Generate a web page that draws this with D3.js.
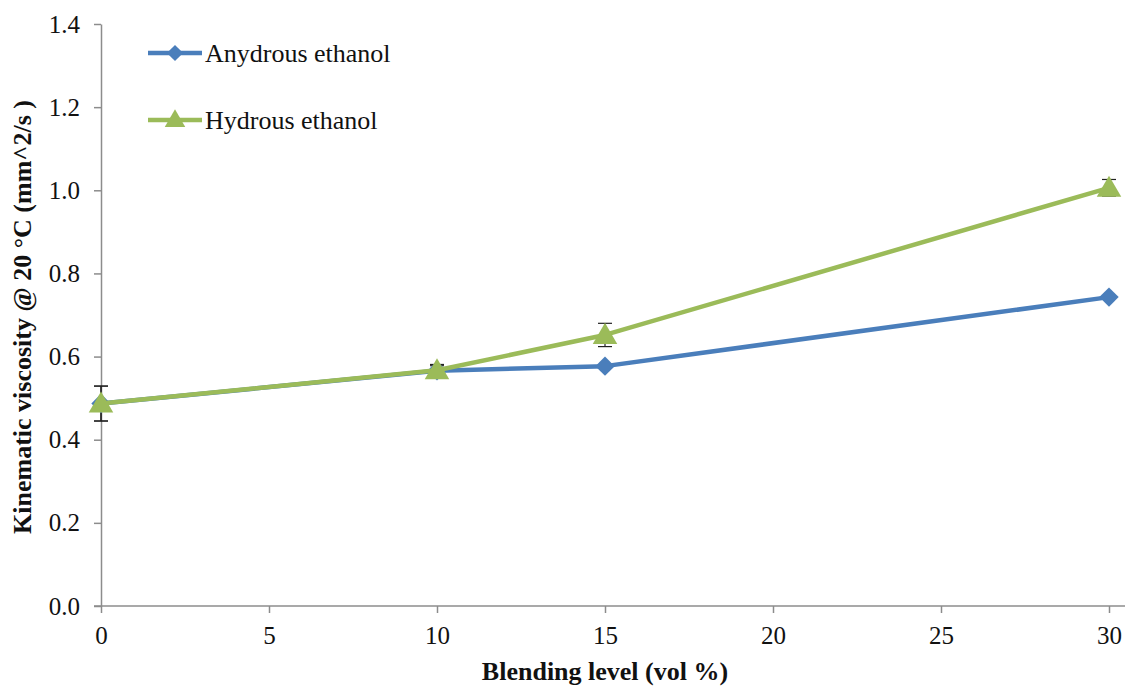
<!DOCTYPE html>
<html>
<head>
<meta charset="utf-8">
<script src="https://cdn.jsdelivr.net/npm/d3@7/dist/d3.min.js"></script>
<style>
  html, body { margin: 0; padding: 0; background: #fff; }
  svg { display: block; }
  text { font-family: "Liberation Serif", "Times New Roman", serif; fill: #111; }
</style>
</head>
<body>
<svg id="chart" width="1125" height="687"></svg>
<script>
// Blending level (vol %) at which viscosity was measured
const blendLevels = [0, 10, 15, 30];
// Kinematic viscosity at 20 °C (mm^2/s)
const anhydrous = [0.487, 0.566, 0.577, 0.743];
const hydrous   = [0.487, 0.567, 0.652, 1.006];
// Error bar half-widths
const anhydrousErr = [0.042, 0.012, 0.0, 0.0];
const hydrousErr   = [0.042, 0.014, 0.028, 0.020];
const seriesNames = ["Anydrous ethanol", "Hydrous ethanol"];
const xTicks = [0, 5, 10, 15, 20, 25, 30];
const yTicks = [0, 0.2, 0.4, 0.6, 0.8, 1.0, 1.2, 1.4];

const svg = d3.select("#chart");
const margin = { left: 100, right: 16, top: 24, bottom: 81 };
const W = 1125, H = 687;
const serif = '"Liberation Serif", "Times New Roman", serif';

const x = d3.scaleLinear().domain([0, 30]).range([margin.left + 1, W - margin.right]);
const y = d3.scaleLinear().domain([0, 1.4]).range([H - margin.bottom, margin.top]);

const axisColor = "#8c8c8c";

// Axes
const xAxis = svg.append("g")
  .attr("transform", `translate(0,${y(0)})`)
  .call(d3.axisBottom(x).tickValues(xTicks).tickSize(7).tickPadding(13).tickSizeOuter(0));
xAxis.attr("font-family", serif).attr("font-size", 25);
xAxis.select(".domain").attr("stroke", axisColor).attr("stroke-width", 1.5)
  .attr("d", `M${margin.left - 6},0H${W}`);
xAxis.selectAll(".tick line").attr("stroke", axisColor).attr("stroke-width", 1.5);
xAxis.selectAll(".tick text").attr("fill", "#111");

const yAxis = svg.append("g")
  .attr("transform", `translate(${x(0)},0)`)
  .call(d3.axisLeft(y).tickValues(yTicks).tickFormat(d3.format(".1f")).tickSize(7).tickPadding(14).tickSizeOuter(0));
yAxis.attr("font-family", serif).attr("font-size", 25);
yAxis.select(".domain").attr("stroke", axisColor).attr("stroke-width", 1.5);
yAxis.selectAll(".tick line").attr("stroke", axisColor).attr("stroke-width", 1.5);
yAxis.selectAll(".tick text").attr("fill", "#111");

// Axis titles
svg.append("text")
  .attr("x", (x(0) + x(30)) / 2)
  .attr("y", 680)
  .attr("text-anchor", "middle")
  .style("font-size", "26px").style("font-weight", "bold")
  .text("Blending level (vol %)");

svg.append("text")
  .attr("transform", `translate(31,${(y(0) + y(1.4)) / 2 + 2}) rotate(-90)`)
  .attr("text-anchor", "middle")
  .style("font-size", "26px").style("font-weight", "bold")
  .text("Kinematic viscosity @ 20 °C (mm^2/s )");

const series = [
  { name: seriesNames[0], values: anhydrous, err: anhydrousErr, color: "#4a7ebb", marker: "diamond" },
  { name: seriesNames[1], values: hydrous, err: hydrousErr, color: "#9bbb59", marker: "triangle" }
];

const line = d3.line().x((d, i) => x(blendLevels[i])).y(d => y(d));

function markerPath(type, scale = 1) {
  if (type === "diamond") return d3.symbol().type(d3.symbolDiamond2).size(240 * scale)();
  return d3.symbol().type(d3.symbolTriangle).size(260 * scale)();
}

// Error bars (drawn beneath markers)
series.forEach(s => {
  const g = svg.append("g");
  s.values.forEach((v, i) => {
    if (!s.err[i]) return;
    const cx = x(blendLevels[i]);
    const y1 = y(v + s.err[i]), y2 = y(v - s.err[i]);
    g.append("line").attr("x1", cx).attr("x2", cx).attr("y1", y1).attr("y2", y2)
      .attr("stroke", "#222").attr("stroke-width", 1.2);
    [y1, y2].forEach(yy => g.append("line")
      .attr("x1", cx - 7).attr("x2", cx + 7).attr("y1", yy).attr("y2", yy)
      .attr("stroke", "#222").attr("stroke-width", 1.2));
  });
});

// Lines and markers
series.forEach(s => {
  svg.append("path").datum(s.values)
    .attr("d", line).attr("fill", "none")
    .attr("stroke", s.color).attr("stroke-width", 4.5).attr("stroke-linejoin", "round");
  svg.append("g").selectAll("path").data(s.values).join("path")
    .attr("d", markerPath(s.marker))
    .attr("transform", (d, i) => `translate(${x(blendLevels[i])},${y(d) + (s.marker === "triangle" ? 2 : 0)})`)
    .attr("fill", s.color);
});

// Legend
const legend = svg.append("g");
series.forEach((s, i) => {
  const ly = 53 + i * 67;
  legend.append("line").attr("x1", 148).attr("x2", 202).attr("y1", ly).attr("y2", ly)
    .attr("stroke", s.color).attr("stroke-width", 4.5);
  legend.append("path").attr("d", markerPath(s.marker, 0.7))
    .attr("transform", `translate(175,${ly + (s.marker === "triangle" ? 1 : 0)})`)
    .attr("fill", s.color);
  legend.append("text").attr("x", 205).attr("y", ly + 9)
    .style("font-size", "26px").text(s.name);
});
</script>
</body>
</html>
